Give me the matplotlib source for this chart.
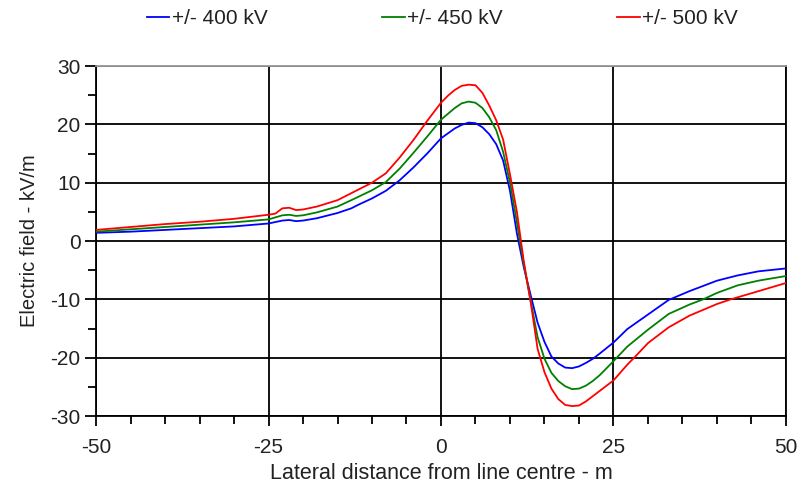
import numpy as np
import matplotlib
matplotlib.use("Agg")
import matplotlib.pyplot as plt
from matplotlib.ticker import MultipleLocator

plt.rcParams['font.family'] = ['Liberation Sans', 'DejaVu Sans']
plt.rcParams['axes.unicode_minus'] = False

# lateral distance (m) and field (kV/m)
x400 = [-50, -45, -40, -35, -30, -25, -23, -22, -21, -20, -18, -15, -13, -12, -10, -8, -6, -4, -2,
        0, 2, 3, 4, 5, 6, 7, 8, 9, 10, 11, 12, 13, 14, 15, 16, 17, 18, 19, 20, 21, 22, 23,
        25, 27, 30, 33, 36, 40, 43, 46, 50]
e400 = [1.4, 1.6, 1.9, 2.2, 2.5, 3.0, 3.5, 3.6, 3.4, 3.5, 3.9, 4.8, 5.6, 6.2, 7.3, 8.6, 10.4, 12.6, 15.0,
        17.6, 19.3, 19.9, 20.3, 20.2, 19.5, 18.3, 16.6, 13.8, 8.6, 1.3, -4.5, -9.3, -14.0, -17.3, -19.8,
        -21.0, -21.7, -21.8, -21.5, -20.9, -20.2, -19.3, -17.4, -15.1, -12.6, -10.1, -8.6, -6.8, -5.9,
        -5.2, -4.7]

x450 = [-50, -45, -40, -35, -30, -25, -23, -22, -21, -20, -18, -15, -13, -10, -8, -6, -4, -2,
        0, 2, 3, 4, 5, 6, 7, 8, 9, 10, 11, 12, 13, 14, 15, 16, 17, 18, 19, 20, 21, 22, 23,
        25, 27, 30, 33, 36, 38, 40, 43, 46, 50]
e450 = [1.6, 2.0, 2.4, 2.8, 3.2, 3.7, 4.4, 4.5, 4.3, 4.4, 4.9, 5.9, 7.0, 8.7, 10.1, 12.4, 15.1, 17.9,
        20.8, 22.8, 23.6, 23.9, 23.7, 22.8, 21.2, 19.0, 15.3, 10.0, 3.2, -4.0, -10.3, -16.5, -20.2,
        -22.6, -24.0, -24.9, -25.4, -25.3, -24.8, -24.0, -23.0, -20.6, -18.1, -15.2, -12.5, -10.9,
        -10.0, -8.9, -7.6, -6.8, -6.0]

x500 = [-50, -45, -40, -35, -30, -25, -24, -23, -22, -21, -20, -18, -15, -13, -10, -8, -6, -4, -2,
        0, 1, 2, 3, 4, 5, 6, 7, 8, 9, 10, 11, 12, 13, 14, 15, 16, 17, 18, 19, 20, 21, 22, 23,
        25, 27, 28, 30, 33, 36, 40, 42, 46, 50]
e500 = [1.9, 2.4, 2.9, 3.3, 3.8, 4.5, 4.7, 5.6, 5.7, 5.3, 5.4, 5.9, 7.0, 8.2, 10.0, 11.6, 14.3, 17.3, 20.6,
        23.7, 24.9, 25.9, 26.6, 26.8, 26.7, 25.4, 23.2, 20.7, 17.4, 11.4, 5.0, -3.5, -10.5, -18.5,
        -22.5, -25.3, -27.1, -28.1, -28.3, -28.2, -27.5, -26.6, -25.7, -23.9, -21.2, -20.0, -17.5,
        -14.8, -12.8, -10.8, -10.0, -8.6, -7.2]

labels = ['+/- 400 kV', '+/- 450 kV', '+/- 500 kV']
colors = ['#0000ff', '#008000', '#ff0000']

fig = plt.figure(figsize=(8.04, 4.97), dpi=100)
ax = fig.add_axes([96/804, 1-416/497, 690/804, 350/497])

lines = []
for xs, ys, lab, c in zip([x400, x450, x500], [e400, e450, e500], labels, colors):
    l, = ax.plot(xs, ys, color=c, lw=1.3, label=lab, zorder=3)
    lines.append(l)

ax.set_xlim(-50, 50)
ax.set_ylim(-30, 30)
ax.xaxis.set_major_locator(MultipleLocator(25))
ax.xaxis.set_minor_locator(MultipleLocator(5))
ax.yaxis.set_major_locator(MultipleLocator(10))
ax.yaxis.set_minor_locator(MultipleLocator(5))
ax.grid(True, which='major', color='black', lw=1.3, zorder=1)

ax.tick_params(axis='both', which='both', direction='out', width=1.3, colors='black',
               labelcolor='#222222', labelsize=15)
ax.tick_params(axis='x', which='major', length=7, pad=9)
ax.tick_params(axis='x', which='minor', length=6)
ax.tick_params(axis='y', which='major', length=8, pad=3)
ax.tick_params(axis='y', which='minor', length=6)

for side in ['left', 'bottom', 'right']:
    ax.spines[side].set_linewidth(1.3)
    ax.spines[side].set_color('black')
ax.spines['top'].set_color('#999999')
ax.spines['top'].set_linewidth(1.3)

ax.set_xlabel('Lateral distance from line centre - m', fontsize=15.5, color='#222222', labelpad=4)
ax.set_ylabel('Electric field - kV/m', fontsize=14.5, color='#222222', labelpad=8)

fig.legend(handles=lines, loc='center', bbox_to_anchor=(0.55, 0.963), ncol=3, frameon=False,
           fontsize=15, handlelength=1.1, handletextpad=0.1, columnspacing=5.5,
           labelcolor='#222222')

fig.savefig('out.png', dpi=100)
